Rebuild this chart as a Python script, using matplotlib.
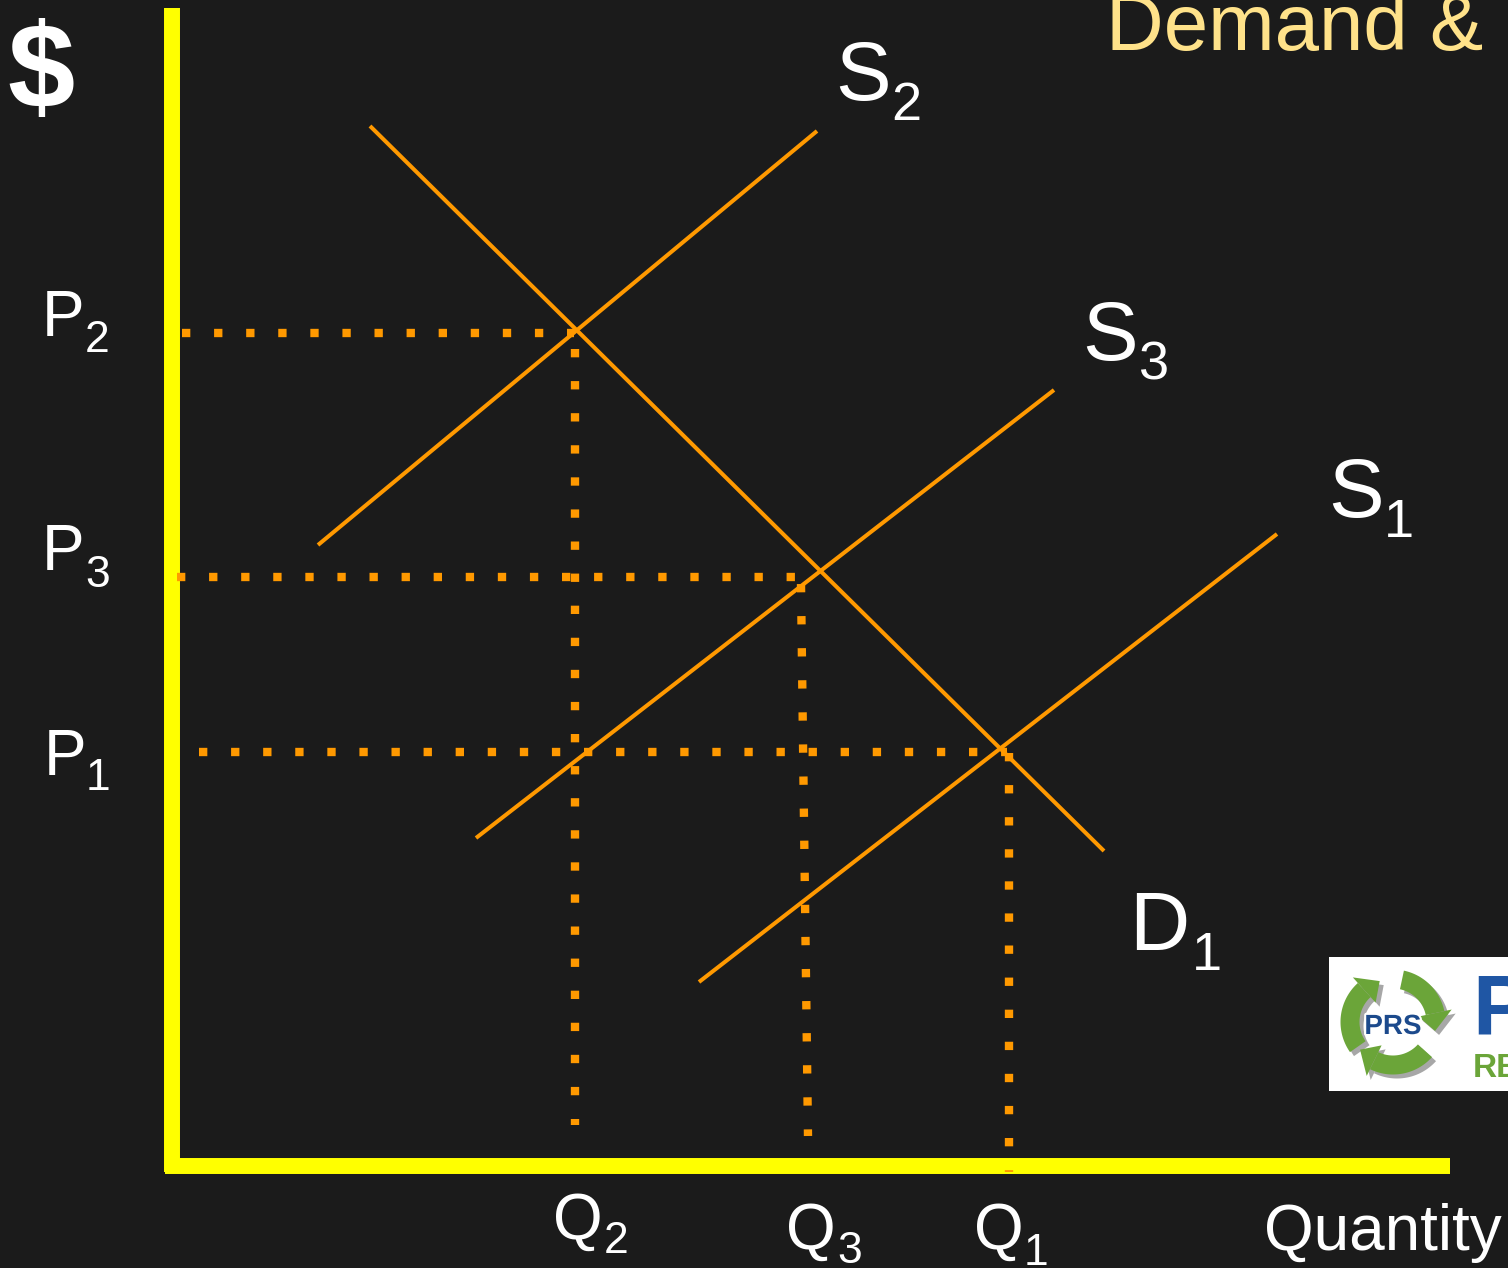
import numpy as np
import matplotlib
matplotlib.use("Agg")
import matplotlib.pyplot as plt
from matplotlib.patches import Rectangle, Polygon
import matplotlib.patheffects as pe

plt.rcParams['font.family'] = ['Liberation Sans', 'DejaVu Sans']

# ---------------- data (quantity / price units) ----------------
demand_D1_q = [19.8, 93.2]
demand_D1_p = [104.0, 31.5]
supply_S2_q = [14.6, 64.5]
supply_S2_p = [62.1, 103.5]
supply_S3_q = [30.4, 88.2]
supply_S3_p = [32.8, 77.6]
supply_S1_q = [52.7, 110.5]
supply_S1_p = [18.4, 63.2]

price_levels = {"P1": 41.4, "P2": 83.3, "P3": 58.9}
quantity_levels = {"Q1": 83.7, "Q2": 40.3, "Q3": 63.3}

# dotted guide segments
guide_h_P2 = [1.0, 40.2]
guide_h_P3 = [0.5, 62.5]
guide_h_P1 = [2.7, 83.5]
guide_v_Q2 = [81.7, 4.1]
guide_v_Q3_q = [62.9, 63.6]
guide_v_Q3_p = [58.2, 3.0]
guide_v_Q1 = [41.3, -0.6]

BG = '#1b1b1b'
ORANGE = '#ff9900'
YELLOW = '#ffff00'

fig = plt.figure(figsize=(15.08, 12.68), dpi=100, facecolor=BG)
ax = fig.add_axes([0, 0, 1, 1], facecolor=BG)
ax.set_xlim(-17.2, 133.6)
ax.set_ylim(-10.2, 116.6)
ax.axis('off')

# axes lines (yellow)
ax.plot([0, 0], [-0.6, 115.8], color=YELLOW, lw=11.5, solid_capstyle='butt', zorder=2)
ax.plot([-0.7, 127.8], [0, 0], color=YELLOW, lw=11.5, solid_capstyle='butt', zorder=2)

# curves
for q, p in [(demand_D1_q, demand_D1_p), (supply_S2_q, supply_S2_p),
             (supply_S3_q, supply_S3_p), (supply_S1_q, supply_S1_p)]:
    ax.plot(q, p, color=ORANGE, lw=2.9, solid_capstyle='butt', zorder=4)

dot_kw = dict(color=ORANGE, lw=6.0, linestyle=(0, (1, 2.85)), dash_capstyle='butt', zorder=3)
ax.plot(guide_h_P2, [price_levels["P2"]] * 2, **dot_kw)
ax.plot(guide_h_P3, [price_levels["P3"]] * 2, **dot_kw)
ax.plot(guide_h_P1, [price_levels["P1"]] * 2, **dot_kw)
ax.plot([quantity_levels["Q2"]] * 2, guide_v_Q2, **dot_kw)
ax.plot(guide_v_Q3_q, guide_v_Q3_p, **dot_kw)
ax.plot([quantity_levels["Q1"]] * 2, guide_v_Q1, **dot_kw)

# ---------------- overlay in pixel coordinates for text / logo ----------------
ov = fig.add_axes([0, 0, 1, 1])
ov.set_xlim(0, 1508)
ov.set_ylim(1268, 0)
ov.axis('off')
ov.patch.set_alpha(0)

def label(main, sub, x, y, size, sx, sy, ssize):
    ov.text(x, y, main, color='white', fontsize=size, ha='left', va='baseline')
    ov.text(sx, sy, sub, color='white', fontsize=ssize, ha='left', va='baseline')

label('S', '2', 835, 100, 60, 891, 120, 39)
label('S', '3', 1082, 360, 60, 1139, 380, 39)
label('S', '1', 1328, 517, 60, 1384, 537, 39)
label('D', '1', 1129, 950, 60, 1192, 970, 39)
label('P', '2', 42, 336, 46, 85, 352, 32)
label('P', '3', 42, 570, 46, 85, 587, 32)
label('P', '1', 44, 775, 46, 86, 790, 32)
label('Q', '2', 553, 1239, 46, 604, 1253, 32)
label('Q', '3', 786, 1249, 46, 837, 1263, 32)
label('Q', '1', 974, 1249, 46, 1024, 1265, 32)
ov.text(1264, 1250, 'Quantity', color='white', fontsize=46, ha='left', va='baseline')
ov.text(7, 108, '$', color='white', fontsize=87, fontweight='bold', ha='left', va='baseline')
ov.text(1106, 50, 'Demand &', color='#ffe28a', fontsize=57.5, ha='left', va='baseline')

# ---------------- logo ----------------
ov.add_patch(Rectangle((1329, 957), 200, 134, facecolor='white', edgecolor='none', zorder=5))

def arc_arrow(cx, cy, r, w, t0, t1, head_w, head_len_deg, color, dx=0, dy=0):
    t = np.radians(np.linspace(t0, t1 + head_len_deg, 40))
    outer = [(cx + (r + w / 2) * np.cos(a) + dx, cy - (r + w / 2) * np.sin(a) + dy) for a in t]
    inner = [(cx + (r - w / 2) * np.cos(a) + dx, cy - (r - w / 2) * np.sin(a) + dy) for a in t[::-1]]
    ov.add_patch(Polygon(outer + inner, closed=True, facecolor=color, edgecolor='none', zorder=6))
    a_base = np.radians(t1 + head_len_deg)
    a_tip = np.radians(t1)
    tip = (cx + r * np.cos(a_tip) + dx, cy - r * np.sin(a_tip) + dy)
    b1 = (cx + (r + head_w / 2) * np.cos(a_base) + dx, cy - (r + head_w / 2) * np.sin(a_base) + dy)
    b2 = (cx + (r - head_w / 2) * np.cos(a_base) + dx, cy - (r - head_w / 2) * np.sin(a_base) + dy)
    ov.add_patch(Polygon([b1, tip, b2], closed=True, facecolor=color, edgecolor='none', zorder=6))

cx, cy = 1393, 1022
arcs = [(215, 108), (78, -12), (-42, -140)]
for (t0, t1) in arcs:
    arc_arrow(cx, cy, 43, 19, t0, t1, 34, 24, '#a7a7a7', dx=4, dy=4)
for (t0, t1) in arcs:
    arc_arrow(cx, cy, 43, 19, t0, t1, 34, 24, '#6ba539')

ov.text(cx, 1034, 'PRS', color='#1c4a8c', fontsize=20, fontweight='bold', ha='center',
        va='baseline', zorder=7,
        path_effects=[pe.withStroke(linewidth=3, foreground='white')])
ov.text(1472, 1035, 'P', color='#1f56a4', fontsize=62, fontweight='bold', ha='left',
        va='baseline', zorder=7)
ov.text(1473, 1077, 'RE', color='#6ba539', fontsize=24, fontweight='bold', ha='left',
        va='baseline', zorder=7)

fig.savefig('out.png', dpi=100, facecolor=BG)
